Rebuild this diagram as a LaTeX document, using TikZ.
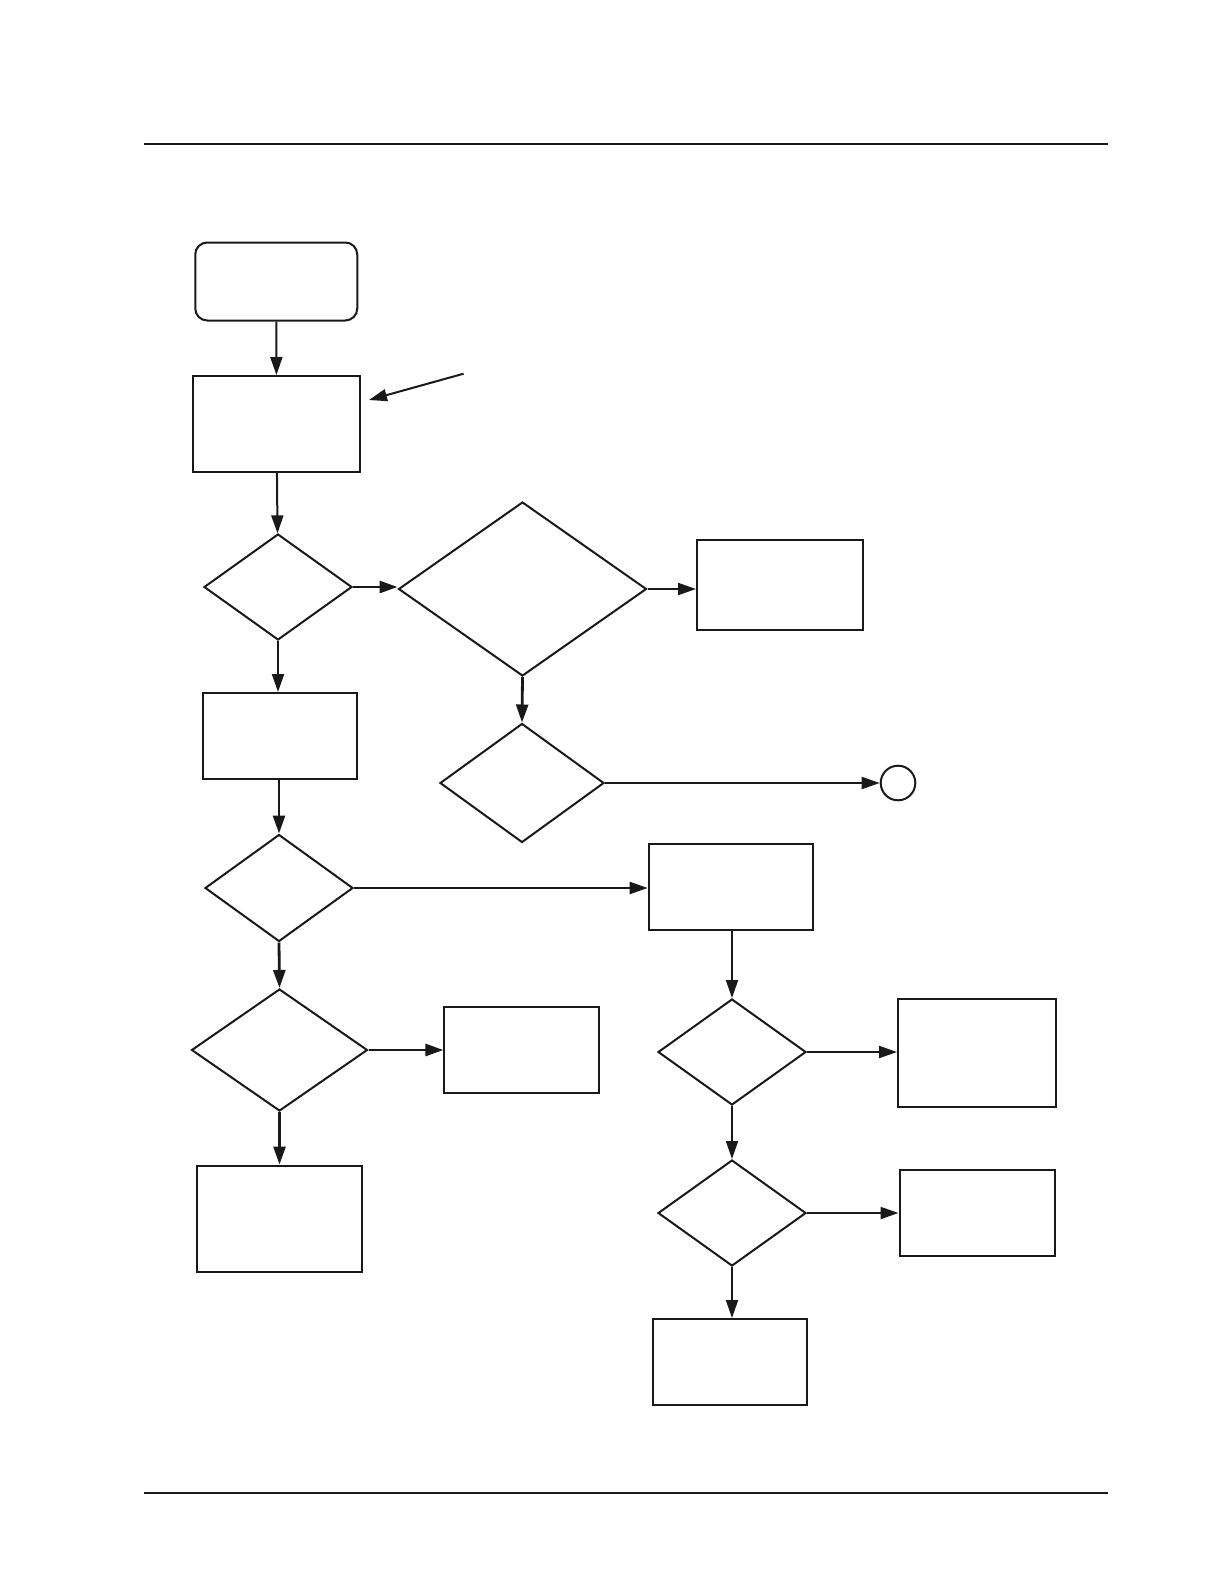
\documentclass[tikz,border=0pt]{standalone}
\usetikzlibrary{shapes.geometric,arrows.meta}
\begin{document}
\begin{tikzpicture}[x=0.5pt,y=-0.5pt,
  box/.style={draw=black!90, line width=1pt, inner sep=0pt, rectangle},
  rbox/.style={box, rounded corners=6pt},
  dia/.style={draw=black!90, line width=1pt, inner sep=0pt, diamond},
  conn/.style={draw=black!90, line width=1pt, -{Triangle[length=9pt,width=6pt]}},
  thick conn/.style={conn, line width=1.4pt},
  rule/.style={draw=black!90, line width=1pt}]
\useasboundingbox (0,0) rectangle (1224,1584);
\fill[white] (0,0) rectangle (1224,1584);
% header/footer rules
\draw[rule] (144,143.5) -- (1108,143.5);
\draw[rule] (144,1493) -- (1108,1493);
% nodes
\node[rbox, minimum width=81pt, minimum height=39pt] (start) at (276.25,281.5) {};
\node[box, minimum width=83.5pt, minimum height=48pt] (b2) at (276.5,424) {};
\node[dia, minimum width=74pt, minimum height=53pt] (d1) at (278,587) {};
\node[dia, minimum width=124pt, minimum height=87pt] (d2) at (522.5,589) {};
\node[box, minimum width=83pt, minimum height=45pt] (b3) at (780,585) {};
\node[dia, minimum width=82pt, minimum height=59.5pt] (d3) at (522,783) {};
\node[circle, draw=black!90, line width=1pt, inner sep=0pt, minimum size=17.3pt] (c) at (898,783) {};
\node[box, minimum width=77pt, minimum height=43pt] (b4) at (280,736) {};
\node[dia, minimum width=74pt, minimum height=53.5pt] (d4) at (279,888) {};
\node[box, minimum width=82pt, minimum height=43pt] (b5) at (730.7,887) {};
\node[dia, minimum width=88pt, minimum height=61pt] (d5) at (279.5,1050) {};
\node[box, minimum width=77.3pt, minimum height=43.3pt] (b6) at (521.7,1050) {};
\node[box, minimum width=82.3pt, minimum height=53pt] (b7) at (279.3,1218.5) {};
\node[dia, minimum width=74pt, minimum height=53pt] (d6) at (732,1052) {};
\node[box, minimum width=79pt, minimum height=54pt] (b8) at (977,1053) {};
\node[dia, minimum width=74pt, minimum height=53pt] (d7) at (732,1213) {};
\node[box, minimum width=77.5pt, minimum height=43pt] (b9) at (977,1213) {};
\node[box, minimum width=77pt, minimum height=43pt] (b10) at (730,1362) {};
\coordinate (annfrom) at (463.6,373.7);
\coordinate (anntip) at (369,400);
% connectors
\draw[conn] (start) -- (b2);
\draw[conn] (annfrom) -- (anntip);
\draw[conn] (b2) -- (d1);
\draw[thick conn] (d1.east) -- (d1.east -| d2.west);
\draw[conn] (d2.east) -- (d2.east -| b3.west);
\draw[thick conn] (d2.south) -- (d3.north);
\draw[conn] (d3.east) -- (c.west);
\draw[conn] (d1.south) -- (d1.south |- b4.north);
\draw[thick conn] (b4.south -| d4.north) -- (d4.north);
\draw[conn] (d4.east) -- (d4.east -| b5.west);
\draw[thick conn] (d4.south) -- (d5.north);
\draw[thick conn] (d5.east) -- (d5.east -| b6.west);
\draw[thick conn] (d5.south) -- (d5.south |- b7.north);
\draw[conn] (b5.south -| d6.north) -- (d6.north);
\draw[conn] (d6.east) -- (d6.east -| b8.west);
\draw[conn] (d6.south) -- (d7.north);
\draw[conn] (d7.east) -- (d7.east -| b9.west);
\draw[conn] (d7.south) -- (d7.south |- b10.north);
\end{tikzpicture}
\end{document}
